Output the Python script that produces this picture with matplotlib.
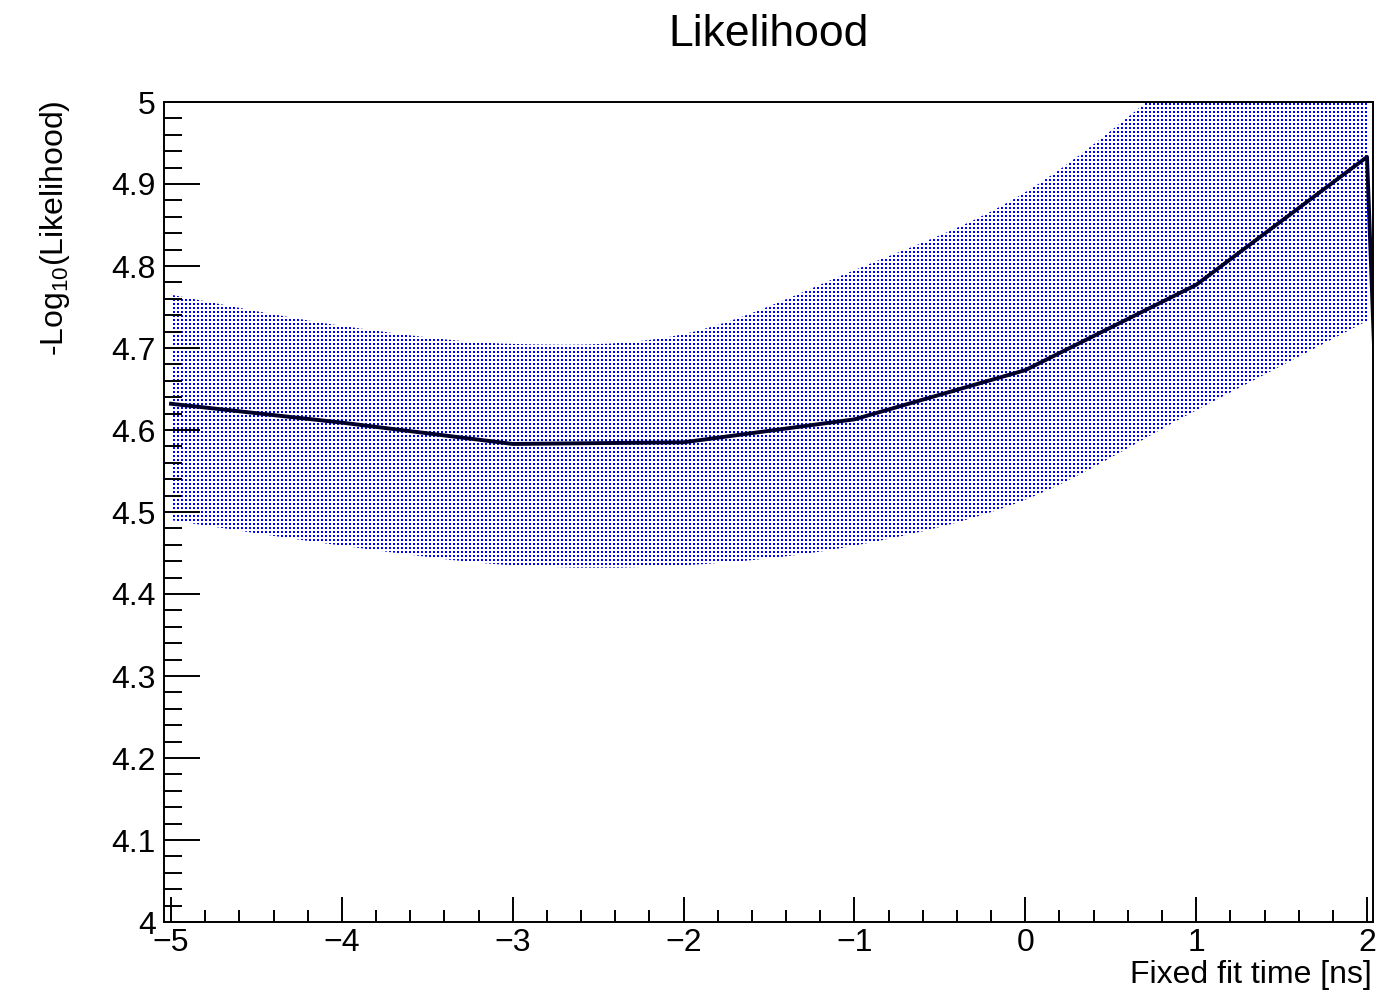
import matplotlib
matplotlib.use("Agg")
import numpy as np
import matplotlib.pyplot as plt
from matplotlib.ticker import MultipleLocator, FixedLocator
from matplotlib.path import Path
from matplotlib.patches import PathPatch

plt.rcParams['font.family'] = ['Liberation Sans', 'DejaVu Sans']
plt.rcParams['mathtext.fontset'] = 'custom'
plt.rcParams['mathtext.rm'] = 'Liberation Sans'

# data
fit_time = [-5, -4, -3, -2, -1, 0, 1, 2, 2.5]
neg_log_l = [4.632, 4.609, 4.583, 4.585, 4.613, 4.673, 4.777, 4.933, 2.12]
band_time = [-5, -4, -3, -2, -1, 0, 1, 2]
band_upper = [4.765, 4.727, 4.705, 4.717, 4.795, 4.890, 5.05, 5.23]
band_lower = [4.490, 4.459, 4.435, 4.435, 4.459, 4.515, 4.624, 4.733]
xticks = [-5, -4, -3, -2, -1, 0, 1, 2]
xtick_labels = ['\u22125', '\u22124', '\u22123', '\u22122', '\u22121', '0', '1', '2']
yticks = [4.0, 4.1, 4.2, 4.3, 4.4, 4.5, 4.6, 4.7, 4.8, 4.9, 5.0]
ytick_labels = ['4', '4.1', '4.2', '4.3', '4.4', '4.5', '4.6', '4.7', '4.8', '4.9', '5']

XLIM = (-5.041, 2.035)
YLIM = (4.0, 5.0)


def smooth_segments(xs, ys):
    """Catmull-Rom curve through the points, as cubic Bezier path pieces."""
    n = len(xs)
    verts, codes = [], []
    for i in range(n - 1):
        x0, y0 = xs[max(i - 1, 0)], ys[max(i - 1, 0)]
        x1, y1 = xs[i], ys[i]
        x2, y2 = xs[i + 1], ys[i + 1]
        x3, y3 = xs[min(i + 2, n - 1)], ys[min(i + 2, n - 1)]
        verts += [(x1 + (x2 - x0) / 6, y1 + (y2 - y0) / 6),
                  (x2 - (x3 - x1) / 6, y2 - (y3 - y1) / 6),
                  (x2, y2)]
        codes += [Path.CURVE4] * 3
    return verts, codes


fig = plt.figure(figsize=(13.79, 9.98), dpi=100)
ax = fig.add_axes([164/1379, 1-922/998, (1373-164)/1379, (922-102)/998])

up_v, up_c = smooth_segments(band_time, band_upper)
lo_v, lo_c = smooth_segments(band_time[::-1], band_lower[::-1])
verts = [(band_time[0], band_upper[0])] + up_v + [(band_time[-1], band_lower[-1])] + lo_v + [(band_time[0], band_upper[0])]
codes = [Path.MOVETO] + up_c + [Path.LINETO] + lo_c + [Path.CLOSEPOLY]
band = PathPatch(Path(verts, codes), facecolor='none', edgecolor='none', linewidth=0)
ax.add_patch(band)

# dotted fill texture (ROOT-like pattern), clipped to the band
W, H = 1373 - 164, 922 - 102
tex = np.ones((H, W, 3))
for dy in (1, 2):
    for dx in (1, 2):
        tex[dy::4, dx::4] = (0.0, 0.0, 1.0)
img = ax.imshow(tex, extent=[XLIM[0], XLIM[1], YLIM[0], YLIM[1]], aspect='auto',
                interpolation='nearest', interpolation_stage='rgba', zorder=1)
img.set_clip_path(band)

ax.plot(fit_time, neg_log_l, color='#00002a', linewidth=2.8, zorder=3)

ax.set_xlim(*XLIM)
ax.set_ylim(*YLIM)

ax.xaxis.set_major_locator(FixedLocator(xticks))
ax.set_xticklabels(xtick_labels)
ax.xaxis.set_minor_locator(MultipleLocator(0.2))
ax.yaxis.set_major_locator(FixedLocator(yticks))
ax.set_yticklabels(ytick_labels)
ax.yaxis.set_minor_locator(MultipleLocator(0.02))

ax.tick_params(axis='both', which='both', direction='in', top=False, right=False,
               width=1.4, labelsize=23, colors='black')
ax.tick_params(axis='y', which='major', length=26, pad=6)
ax.tick_params(axis='y', which='minor', length=13)
ax.tick_params(axis='x', which='major', length=18, pad=4)
ax.tick_params(axis='x', which='minor', length=9)
for s in ax.spines.values():
    s.set_linewidth(1.4)
    s.set_zorder(5)

fig.text(769/1379, 1-35/998, 'Likelihood', ha='center', va='center', fontsize=32)
fig.text(1372/1379, 1-975/998, 'Fixed fit time [ns]', ha='right', va='center', fontsize=23)
fig.text(55/1379, 1-100/998, r'-Log$_{\mathregular{10}}$(Likelihood)', ha='center', va='top',
         rotation=90, fontsize=23)

fig.savefig('out.png', dpi=100)
